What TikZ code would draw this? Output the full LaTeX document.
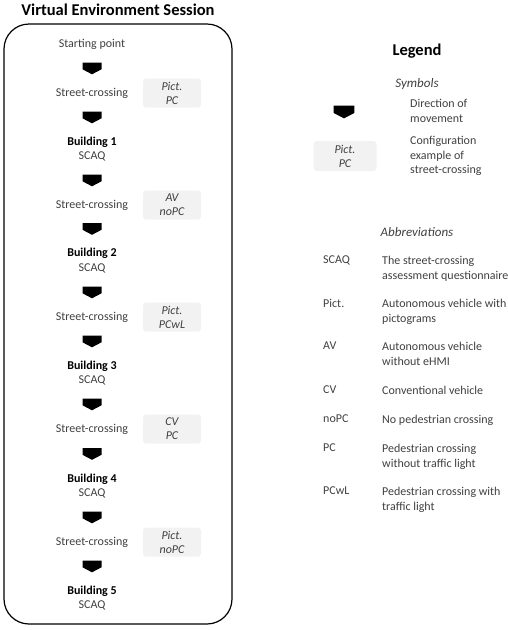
\documentclass[tikz,border=0pt]{standalone}
\usepackage{fontspec}
\setmainfont{Carlito}
\usepackage{tikz}
\usetikzlibrary{calc}

\definecolor{txtgrey}{HTML}{404040}
\definecolor{boxgrey}{HTML}{F2F2F2}

\tikzset{
    body/.style={font=\fontsize{12}{14.5}\selectfont, text=txtgrey, inner sep=0pt},
    bldbody/.style={font=\fontsize{12}{14.5}\selectfont\bfseries, text=black, inner sep=0pt},
    heading/.style={font=\fontsize{16.5}{19}\selectfont\bfseries, text=black, inner sep=0pt},
    subheading/.style={font=\fontsize{13}{15}\selectfont\itshape, text=txtgrey, inner sep=0pt},
    cfgbox/.style={fill=boxgrey, rounded corners=3pt, minimum width=58pt, minimum height=29pt,
        align=center, font=\fontsize{12}{14}\selectfont\itshape, text=txtgrey, inner sep=0pt},
    abbr/.style={body, anchor=north west, align=left},
    movearrow/.pic={
        \fill[black] (-9.5,-5.8) -- (9.5,-5.8) -- (9.5,0.8) -- (0,5.8) -- (-9.5,0.8) -- cycle;
    }
}

\begin{document}
\begin{tikzpicture}[x=1pt, y=-1pt]
    \useasboundingbox (0,0) rectangle (507,630);

    % ============================================================
    % SESSION FRAME
    % ============================================================
    \node[heading] (title) at (118,10) {Virtual Environment Session};
    \draw[line width=1.2pt, rounded corners=25pt] (4,24) rectangle (232,624);

    % ============================================================
    % SEQUENCE OF STAGES
    % ============================================================
    \node[body] (start) at (92,44) {Starting point};

    \node[body] (sc1) at (92,93) {Street-crossing};
    \node[cfgbox] (cfg1) at (172,93) {Pict.\\PC};
    \node[bldbody] (b1) at (92,142) {Building 1};
    \node[body] (q1) at (92,156) {SCAQ};

    \node[body] (sc2) at (92,205) {Street-crossing};
    \node[cfgbox] (cfg2) at (172,205) {AV\\noPC};
    \node[bldbody] (b2) at (92,253) {Building 2};
    \node[body] (q2) at (92,268) {SCAQ};

    \node[body] (sc3) at (92,317) {Street-crossing};
    \node[cfgbox] (cfg3) at (172,317) {Pict.\\PCwL};
    \node[bldbody] (b3) at (92,366) {Building 3};
    \node[body] (q3) at (92,380) {SCAQ};

    \node[body] (sc4) at (92,429) {Street-crossing};
    \node[cfgbox] (cfg4) at (172,429) {CV\\PC};
    \node[bldbody] (b4) at (92,479) {Building 4};
    \node[body] (q4) at (92,493) {SCAQ};

    \node[body] (sc5) at (92,542) {Street-crossing};
    \node[cfgbox] (cfg5) at (172,542) {Pict.\\noPC};
    \node[bldbody] (b5) at (92,591) {Building 5};
    \node[body] (q5) at (92,605) {SCAQ};

    % direction of movement
    \pic at ($(start)!0.5!(sc1)$) {movearrow};
    \pic at ($(sc1)!0.5!(b1)$) {movearrow};
    \pic at ($(q1)!0.5!(sc2)$) {movearrow};
    \pic at ($(sc2)!0.5!(b2)$) {movearrow};
    \pic at ($(q2)!0.5!(sc3)$) {movearrow};
    \pic at ($(sc3)!0.5!(b3)$) {movearrow};
    \pic at ($(q3)!0.5!(sc4)$) {movearrow};
    \pic at ($(sc4)!0.5!(b4)$) {movearrow};
    \pic at ($(q4)!0.5!(sc5)$) {movearrow};
    \pic at ($(sc5)!0.5!(b5)$) {movearrow};

    % ============================================================
    % LEGEND: SYMBOLS
    % ============================================================
    \node[heading] (legend) at (417,51) {Legend};
    \node[subheading] (symbols) at (417,84) {Symbols};

    \coordinate (symarrow) at (344,112);
    \pic[scale=1.1] at (symarrow) {movearrow};
    \node[abbr] (symarrowtxt) at (410,99) {Direction of\\movement};

    \node[cfgbox, minimum width=63pt, minimum height=30pt] (symcfg) at (345,156) {Pict.\\PC};
    \node[abbr] (symcfgtxt) at (410,136) {Configuration\\example of\\street-crossing};

    % ============================================================
    % LEGEND: ABBREVIATIONS
    % ============================================================
    \node[subheading] (abbrevs) at (417,232) {Abbreviations};

    \node[abbr] (kscaq) at (323,256) {SCAQ};
    \node[abbr] (dscaq) at (382,256) {The street-crossing\\assessment questionnaire};

    \node[abbr] (kpict) at (323,299) {Pict.};
    \node[abbr] (dpict) at (382,299) {Autonomous vehicle with\\pictograms};

    \node[abbr] (kav) at (323,342) {AV};
    \node[abbr] (dav) at (382,342) {Autonomous vehicle\\without eHMI};

    \node[abbr] (kcv) at (323,386) {CV};
    \node[abbr] (dcv) at (382,386) {Conventional vehicle};

    \node[abbr] (knopc) at (323,415) {noPC};
    \node[abbr] (dnopc) at (382,415) {No pedestrian crossing};

    \node[abbr] (kpc) at (323,444) {PC};
    \node[abbr] (dpc) at (382,444) {Pedestrian crossing\\without traffic light};

    \node[abbr] (kpcwl) at (323,487) {PCwL};
    \node[abbr] (dpcwl) at (382,487) {Pedestrian crossing with\\traffic light};

\end{tikzpicture}
\end{document}
